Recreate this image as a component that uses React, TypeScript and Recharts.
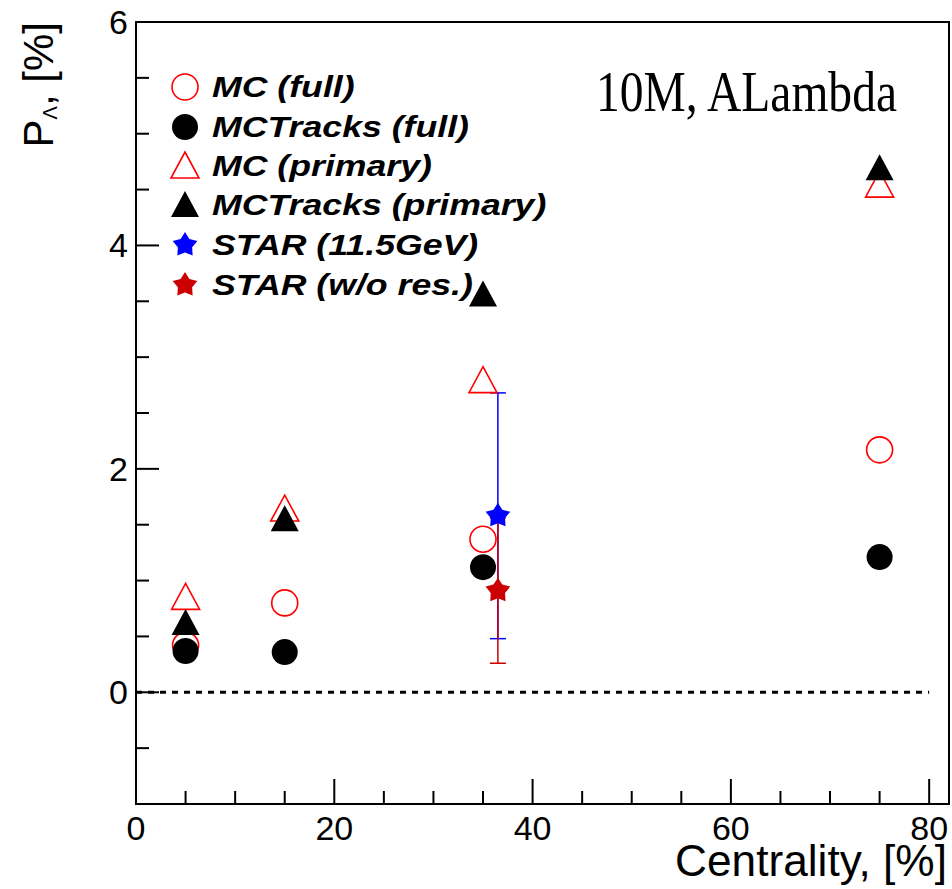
import React from 'react';
import { ScatterChart, Scatter, XAxis, YAxis, ErrorBar, ReferenceLine, ReferenceArea, Legend } from 'recharts';

// centrality bins of the simulation points
const centrality = [5, 15, 35, 75];
const mcFull = [0.42, 0.8, 1.37, 2.17];
const mcTracksFull = [0.37, 0.36, 1.12, 1.21];
const mcPrimary = [0.85, 1.64, 2.79, 4.54];
const mcTracksPrimary = [0.62, 1.55, 3.56, 4.69];

// STAR measurement
const starCentrality = [36.5];
const star115 = [1.58];
const star115Err = [1.1];
const starNoRes = [0.91];
const starNoResErr = [0.65];

const xTicks = [0, 5, 10, 15, 20, 25, 30, 35, 40, 45, 50, 55, 60, 65, 70, 75, 80];
const yTicks = [-0.5, 0, 0.5, 1, 1.5, 2, 2.5, 3, 3.5, 4, 4.5, 5, 5.5, 6];

const legendLabels = ['MC (full)', 'MCTracks (full)', 'MC (primary)', 'MCTracks (primary)', 'STAR (11.5GeV)', 'STAR (w/o res.)'];

const toPoints = (xs: number[], ys: number[], errs?: number[]) =>
  xs.map((x, i) => ({ x, y: ys[i], err: errs ? errs[i] : 0 }));

const SANS = '"Liberation Sans", Arial, Helvetica, sans-serif';
const RED = '#ff0000';
const R = 13;

const OpenCircle = ({ cx, cy }: any) => <circle cx={cx} cy={cy} r={R} fill="none" stroke={RED} strokeWidth={1.6} />;
const FullCircle = ({ cx, cy }: any) => <circle cx={cx} cy={cy} r={R} fill="#000" />;
const triPath = (cx: number, cy: number) => `M${cx},${cy - 14} L${cx + 14},${cy + 12} L${cx - 14},${cy + 12} Z`;
const OpenTriangle = ({ cx, cy }: any) => <path d={triPath(cx, cy)} fill="none" stroke={RED} strokeWidth={1.6} />;
const FullTriangle = ({ cx, cy }: any) => <path d={triPath(cx, cy)} fill="#000" />;

const starPath = (cx: number, cy: number) => {
  const pts: string[] = [];
  for (let i = 0; i < 10; i++) {
    const rad = i % 2 === 0 ? 13 : 7.5;
    const a = -Math.PI / 2 + (i * Math.PI) / 5;
    pts.push(`${cx + rad * Math.cos(a)},${cy + rad * Math.sin(a)}`);
  }
  return `M${pts.join(' L')} Z`;
};
const BlueStar = ({ cx, cy }: any) => <path d={starPath(cx, cy)} fill="#0000ff" />;
const RedStar = ({ cx, cy }: any) => <path d={starPath(cx, cy)} fill="#cc0000" />;

const legendShapes = [OpenCircle, FullCircle, OpenTriangle, FullTriangle, BlueStar, RedStar];
const legendRows = [87, 127, 166, 205, 245, 285];

const XTick = (props: any) => {
  const { x, y, payload } = props;
  const major = payload.value % 20 === 0;
  return (
    <g>
      <line x1={x} y1={y} x2={x} y2={y - (major ? 25 : 13)} stroke="#000" strokeWidth={2} />
      {major && (
        <text x={x} y={y + 36} textAnchor="middle" fontSize={34} fontFamily={SANS} fill="#000">
          {payload.value}
        </text>
      )}
    </g>
  );
};

const YTick = (props: any) => {
  const { x, y, payload } = props;
  const major = payload.value % 2 === 0;
  return (
    <g>
      <line x1={x} y1={y} x2={x + (major ? 23 : 13)} y2={y} stroke="#000" strokeWidth={2} />
      {major && (
        <text x={x - 8} y={y + 12} textAnchor="end" fontSize={34} fontFamily={SANS} fill="#000">
          {payload.value}
        </text>
      )}
    </g>
  );
};

const LegendBox = () => (
  <svg width={952} height={320} style={{ display: 'block' }}>
    {legendLabels.map((label, i) => {
      const Shape = legendShapes[i];
      const cy = legendRows[i];
      return (
        <g key={label}>
          <Shape cx={185} cy={cy} />
          <text
            transform={`translate(212, ${cy + 10}) scale(1.23, 1)`}
            fontSize={29}
            fontWeight="bold"
            fontStyle="italic"
            fontFamily={SANS}
            fill="#000"
          >
            {label}
          </text>
        </g>
      );
    })}
    <text x={596} y={111} fontSize={56} textLength={301} lengthAdjust="spacingAndGlyphs" fontFamily='"Liberation Serif", "Times New Roman", serif' fill="#000">
      10M, ALambda
    </text>
  </svg>
);

export default function App() {
  return (
    <div style={{ position: 'absolute', left: 0, top: 0, background: '#fff' }}>
      <ScatterChart width={952} height={889} margin={{ top: 22, right: 3, left: 0, bottom: 0 }}>
        <XAxis
          type="number"
          dataKey="x"
          domain={[0, 82]}
          allowDataOverflow
          ticks={xTicks}
          interval={0}
          tick={<XTick />}
          tickLine={false}
          axisLine={false}
          tickSize={0}
          tickMargin={0}
          height={85}
          label={{
            content: () => (
              <text x={947} y={876} textAnchor="end" fontSize={44} textLength={272} lengthAdjust="spacingAndGlyphs" fontFamily={SANS} fill="#000">
                Centrality, [%]
              </text>
            ),
          }}
        />
        <YAxis
          type="number"
          dataKey="y"
          domain={[-1, 6]}
          allowDataOverflow
          ticks={yTicks}
          interval={0}
          tick={<YTick />}
          tickLine={false}
          axisLine={false}
          tickSize={0}
          tickMargin={0}
          width={136}
          label={{
            content: () => (
              <text transform="rotate(-90)" x={-22} y={53} textAnchor="end" fontSize={42} fontFamily={SANS} fill="#000">
                P<tspan fontSize={20} dy={4}>Λ</tspan>
                <tspan dy={-4}>, [%]</tspan>
              </text>
            ),
          }}
        />
        <ReferenceArea x1={0} x2={82} y1={-1} y2={6} fill="none" stroke="#000" strokeWidth={2} ifOverflow="visible" />
        <ReferenceLine segment={[{ x: 0, y: 0 }, { x: 80, y: 0 }]} stroke="#000" strokeWidth={3} strokeDasharray="6 6" />
        <Scatter name="MC (full)" data={toPoints(centrality, mcFull)} shape={(p: any) => <OpenCircle cx={p.cx} cy={p.cy} />} isAnimationActive={false} />
        <Scatter name="MCTracks (full)" data={toPoints(centrality, mcTracksFull)} shape={(p: any) => <FullCircle cx={p.cx} cy={p.cy} />} isAnimationActive={false} />
        <Scatter name="MC (primary)" data={toPoints(centrality, mcPrimary)} shape={(p: any) => <OpenTriangle cx={p.cx} cy={p.cy} />} isAnimationActive={false} />
        <Scatter name="MCTracks (primary)" data={toPoints(centrality, mcTracksPrimary)} shape={(p: any) => <FullTriangle cx={p.cx} cy={p.cy} />} isAnimationActive={false} />
        <Scatter name="STAR (11.5GeV)" data={toPoints(starCentrality, star115, star115Err)} shape={(p: any) => <BlueStar cx={p.cx} cy={p.cy} />} isAnimationActive={false}>
          <ErrorBar dataKey="err" direction="y" width={8} stroke="#0000ff" strokeWidth={1.5} isAnimationActive={false} />
        </Scatter>
        <Scatter name="STAR (w/o res.)" data={toPoints(starCentrality, starNoRes, starNoResErr)} shape={(p: any) => <RedStar cx={p.cx} cy={p.cy} />} isAnimationActive={false}>
          <ErrorBar dataKey="err" direction="y" width={8} stroke="#cc0000" strokeWidth={1.5} isAnimationActive={false} />
        </Scatter>
        <Legend
          layout="horizontal"
          verticalAlign="middle"
          align="center"
          content={() => <LegendBox />}
          wrapperStyle={{ position: 'absolute', left: 0, top: 0, width: 952, height: 320, pointerEvents: 'none' }}
        />
      </ScatterChart>
    </div>
  );
}
